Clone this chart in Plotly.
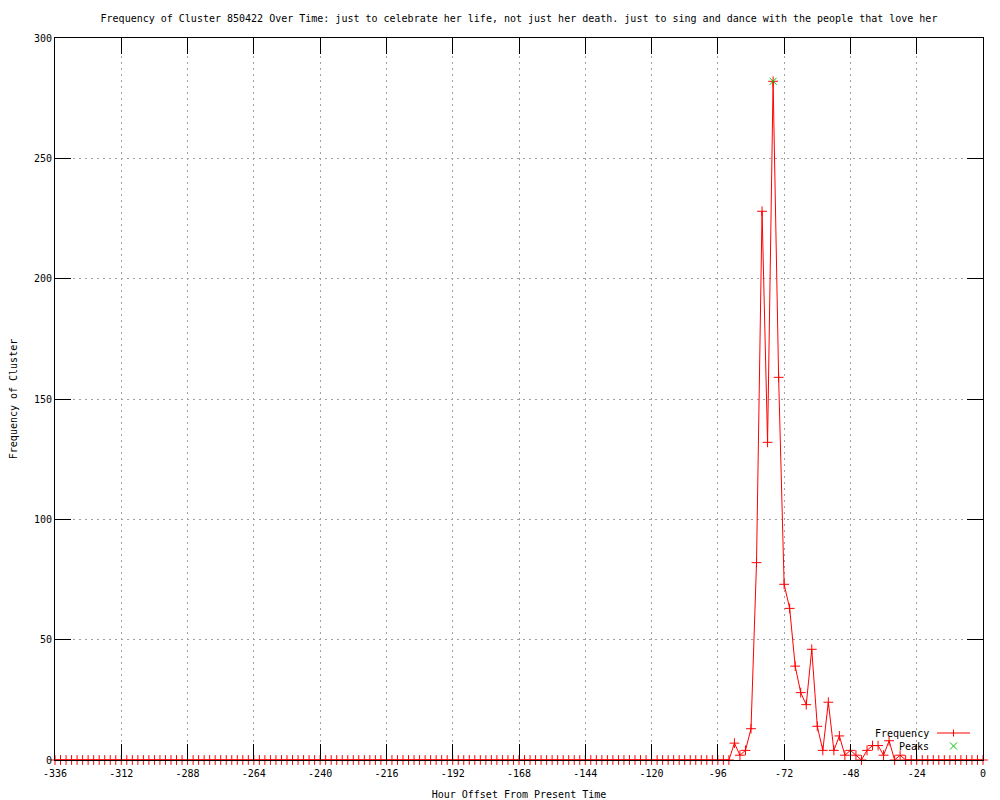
import plotly.graph_objects as go

# ---- data ----
hours = [
    -336, -334, -332, -330, -328, -326, -324, -322, -320, -318, -316, -314, -312, -310, -308, -306, -304, -302, -300, -298,
    -296, -294, -292, -290, -288, -286, -284, -282, -280, -278, -276, -274, -272, -270, -268, -266, -264, -262, -260, -258,
    -256, -254, -252, -250, -248, -246, -244, -242, -240, -238, -236, -234, -232, -230, -228, -226, -224, -222, -220, -218,
    -216, -214, -212, -210, -208, -206, -204, -202, -200, -198, -196, -194, -192, -190, -188, -186, -184, -182, -180, -178,
    -176, -174, -172, -170, -168, -166, -164, -162, -160, -158, -156, -154, -152, -150, -148, -146, -144, -142, -140, -138,
    -136, -134, -132, -130, -128, -126, -124, -122, -120, -118, -116, -114, -112, -110, -108, -106, -104, -102, -100, -98,
    -96, -94, -92, -90, -88, -86, -84, -82, -80, -78, -76, -74, -72, -70, -68, -66, -64, -62, -60, -58,
    -56, -54, -52, -50, -48, -46, -44, -42, -40, -38, -36, -34, -32, -30, -28, -26, -24, -22, -20, -18,
    -16, -14, -12, -10, -8, -6, -4, -2, 0,
]
frequency = [
    0, 0, 0, 0, 0, 0, 0, 0, 0, 0, 0, 0, 0, 0, 0, 0, 0, 0, 0, 0,
    0, 0, 0, 0, 0, 0, 0, 0, 0, 0, 0, 0, 0, 0, 0, 0, 0, 0, 0, 0,
    0, 0, 0, 0, 0, 0, 0, 0, 0, 0, 0, 0, 0, 0, 0, 0, 0, 0, 0, 0,
    0, 0, 0, 0, 0, 0, 0, 0, 0, 0, 0, 0, 0, 0, 0, 0, 0, 0, 0, 0,
    0, 0, 0, 0, 0, 0, 0, 0, 0, 0, 0, 0, 0, 0, 0, 0, 0, 0, 0, 0,
    0, 0, 0, 0, 0, 0, 0, 0, 0, 0, 0, 0, 0, 0, 0, 0, 0, 0, 0, 0,
    0, 0, 0, 7, 2, 4, 13, 82, 228, 132, 282, 159, 73, 63, 39, 28, 23, 46, 14, 4,
    24, 4, 10, 2, 4, 2, 0, 4, 6, 6, 2, 8, 0, 2, 0, 0, 0, 0, 0, 0,
    0, 0, 0, 0, 0, 0, 0, 0, 0,
]
peak_hours = [-76]
peak_values = [282]

x_ticks = [-336, -312, -288, -264, -240, -216, -192, -168, -144, -120, -96, -72, -48, -24, 0]
y_ticks = [0, 50, 100, 150, 200, 250, 300]

title_text = ("Frequency of Cluster 850422 Over Time: just to celebrate her life, "
              "not just her death. just to sing and dance with the people that love her")

FONT = "DejaVu Sans Mono"

fig = go.Figure()
fig.add_trace(go.Scatter(
    x=hours, y=frequency, mode="lines+markers", name="Frequency",
    line=dict(color="#ff0000", width=1),
    marker=dict(symbol="cross-thin", size=7, line=dict(color="#ff0000", width=1), color="#ff0000"),
    cliponaxis=False, showlegend=False,
))
fig.add_trace(go.Scatter(
    x=peak_hours, y=peak_values, mode="markers", name="Peaks",
    marker=dict(symbol="x-thin", size=7, line=dict(color="#00c000", width=1), color="#00c000"),
    cliponaxis=False, showlegend=False,
))

axis_common = dict(
    showline=True, linecolor="black", linewidth=1, mirror="ticks",
    ticks="inside", ticklen=16, tickwidth=1, tickcolor="black",
    showgrid=True, gridcolor="#a0a0a0", gridwidth=1, griddash="2px,4px",
    zeroline=False,
    tickfont=dict(family=FONT, size=10, color="black"),
)

fig.update_xaxes(
    range=[-336, 0], tickvals=x_ticks, ticktext=[str(v) for v in x_ticks],
    ticklabelstandoff=4,
    title=dict(text="Hour Offset From Present Time", font=dict(family=FONT, size=10, color="black"), standoff=12),
    automargin=False, **axis_common,
)
fig.update_yaxes(
    range=[0, 300], tickvals=y_ticks, ticktext=[str(v) for v in y_ticks],
    title=dict(text="Frequency of Cluster", font=dict(family=FONT, size=10, color="black"), standoff=14),
    automargin=False, **axis_common,
)

# gnuplot-style key (text left, sample right), bottom right of plot area
L, R, T, B = 55, 983, 38, 760
def px(xp):
    return (xp - L) / (R - L)
def py(yp):
    return (B - yp) / (B - T)

fig.add_annotation(x=px(931), y=py(733), xref="paper", yref="paper", text="Frequency",
                   showarrow=False, xanchor="right", yanchor="middle",
                   font=dict(family=FONT, size=10, color="black"))
fig.add_annotation(x=px(931), y=py(746), xref="paper", yref="paper", text="Peaks",
                   showarrow=False, xanchor="right", yanchor="middle",
                   font=dict(family=FONT, size=10, color="black"))
shapes = [
    dict(type="line", xref="paper", yref="paper", x0=px(937), x1=px(970), y0=py(733), y1=py(733),
         line=dict(color="#ff0000", width=1)),
    dict(type="line", xref="paper", yref="paper", x0=px(953.5), x1=px(953.5), y0=py(729.5), y1=py(736.5),
         line=dict(color="#ff0000", width=1)),
    dict(type="line", xref="paper", yref="paper", x0=px(950), x1=px(957), y0=py(742.5), y1=py(749.5),
         line=dict(color="#00c000", width=1)),
    dict(type="line", xref="paper", yref="paper", x0=px(950), x1=px(957), y0=py(749.5), y1=py(742.5),
         line=dict(color="#00c000", width=1)),
]
fig.update_layout(shapes=shapes)

fig.update_layout(
    width=1000, height=800, autosize=False,
    margin=dict(l=L, r=1000 - R, t=T, b=800 - B, pad=0),
    paper_bgcolor="white", plot_bgcolor="white",
    title=dict(text=title_text, x=0.5, xref="paper", xanchor="center",
               y=1 - 18 / 800, yref="container", yanchor="middle",
               font=dict(family=FONT, size=10, color="black")),
    font=dict(family=FONT, size=10, color="black"),
    showlegend=False,
)

fig.write_html("out.html", config={"displayModeBar": False},
               post_script="document.body.style.margin='0';")
